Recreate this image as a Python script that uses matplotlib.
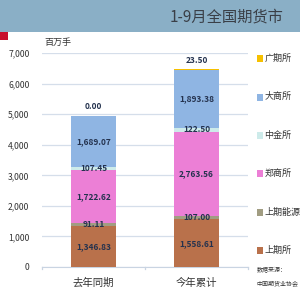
import numpy as np
import matplotlib.pyplot as plt
from matplotlib.patches import Rectangle

plt.rcParams['font.family'] = ['Noto Sans CJK SC', 'DejaVu Sans']

categories = ['去年同期', '今年累计']
series_names = ['上期所', '上期能源', '郑商所', '中金所', '大商所', '广期所']
values = {
    '上期所': [1346.83, 1558.61],
    '上期能源': [91.11, 107.00],
    '郑商所': [1722.62, 2763.56],
    '中金所': [107.45, 122.50],
    '大商所': [1689.07, 1893.38],
    '广期所': [0.00, 23.50],
}
colors = {
    '上期所': '#B9714B',
    '上期能源': '#A19D82',
    '郑商所': '#EC7FD6',
    '中金所': '#CDEBEA',
    '大商所': '#8FB5E3',
    '广期所': '#F6C000',
}
yticks = [0, 1000, 2000, 3000, 4000, 5000, 6000, 7000]

fig = plt.figure(figsize=(3, 3), dpi=100)
fig.patch.set_facecolor('white')

# title band
fig.patches.append(Rectangle((0, 0.893), 1, 0.107, transform=fig.transFigure,
                             facecolor='#8AAFC6', edgecolor='none', zorder=0))
fig.text(0.565, 0.945, '1-9月全国期货市', fontsize=11, color='#3A3F47',
         va='center', ha='left')
fig.patches.append(Rectangle((0, 0.868), 0.027, 0.025, transform=fig.transFigure,
                             facecolor='#C8102E', edgecolor='none'))

ax = fig.add_axes([0.14, 0.11, 0.687, 0.713])
x = np.arange(len(categories))
width = 0.44
bottom = np.zeros(len(categories))
label_color = '#24324E'
for name in series_names:
    v = np.array(values[name])
    ax.bar(x, v, width, bottom=bottom, color=colors[name], edgecolor='none',
           label=name, zorder=3)
    for i in range(len(x)):
        if name == '广期所':
            ypos = bottom[i] + v[i] + 280
        else:
            ypos = bottom[i] + v[i] / 2
        ax.text(x[i], ypos, f'{v[i]:,.2f}', ha='center', va='center',
                fontsize=6, fontweight='bold', color=label_color, zorder=4)
    bottom += v

ax.set_xlim(-0.5, 1.5)
ax.set_ylim(0, 7000)
ax.set_yticks(yticks)
ax.set_yticklabels([f'{t:,}' for t in yticks], fontsize=6.2, color='#333333')
ax.set_xticks(x)
ax.set_xticklabels(categories, fontsize=7.5, color='#333333')
ax.tick_params(axis='y', length=0, pad=9)
ax.tick_params(axis='x', length=0, pad=8)
ax.grid(axis='y', color='#D5DEEA', linewidth=0.9, zorder=0)
for s in ['top', 'right', 'left']:
    ax.spines[s].set_visible(False)
ax.spines['bottom'].set_color('#C9D4E2')
for xv in [-0.5, 0.5, 1.5]:
    ax.plot([xv, xv], [0, -70], color='#C9D4E2', lw=0.9, clip_on=False)

ax.text(0.01, 1.03, '百万手', transform=ax.transAxes, fontsize=6.5, color='#333333',
        ha='left', va='bottom')

# legend drawn to the right, top to bottom
ys = [0.807, 0.677, 0.550, 0.423, 0.293, 0.167]
for name, yy in zip(reversed(series_names), ys):
    fig.patches.append(Rectangle((0.855, yy - 0.012), 0.02, 0.022,
                                 transform=fig.transFigure,
                                 facecolor=colors[name], edgecolor='none'))
    fig.text(0.882, yy, name, fontsize=6.5, color='#333333', va='center')

fig.text(0.855, 0.1, '数据来源：', fontsize=4.3, color='#333333', va='center')
fig.text(0.855, 0.057, '中国期货业协会', fontsize=4.3, color='#333333', va='center')

fig.savefig('out.png', dpi=100)
